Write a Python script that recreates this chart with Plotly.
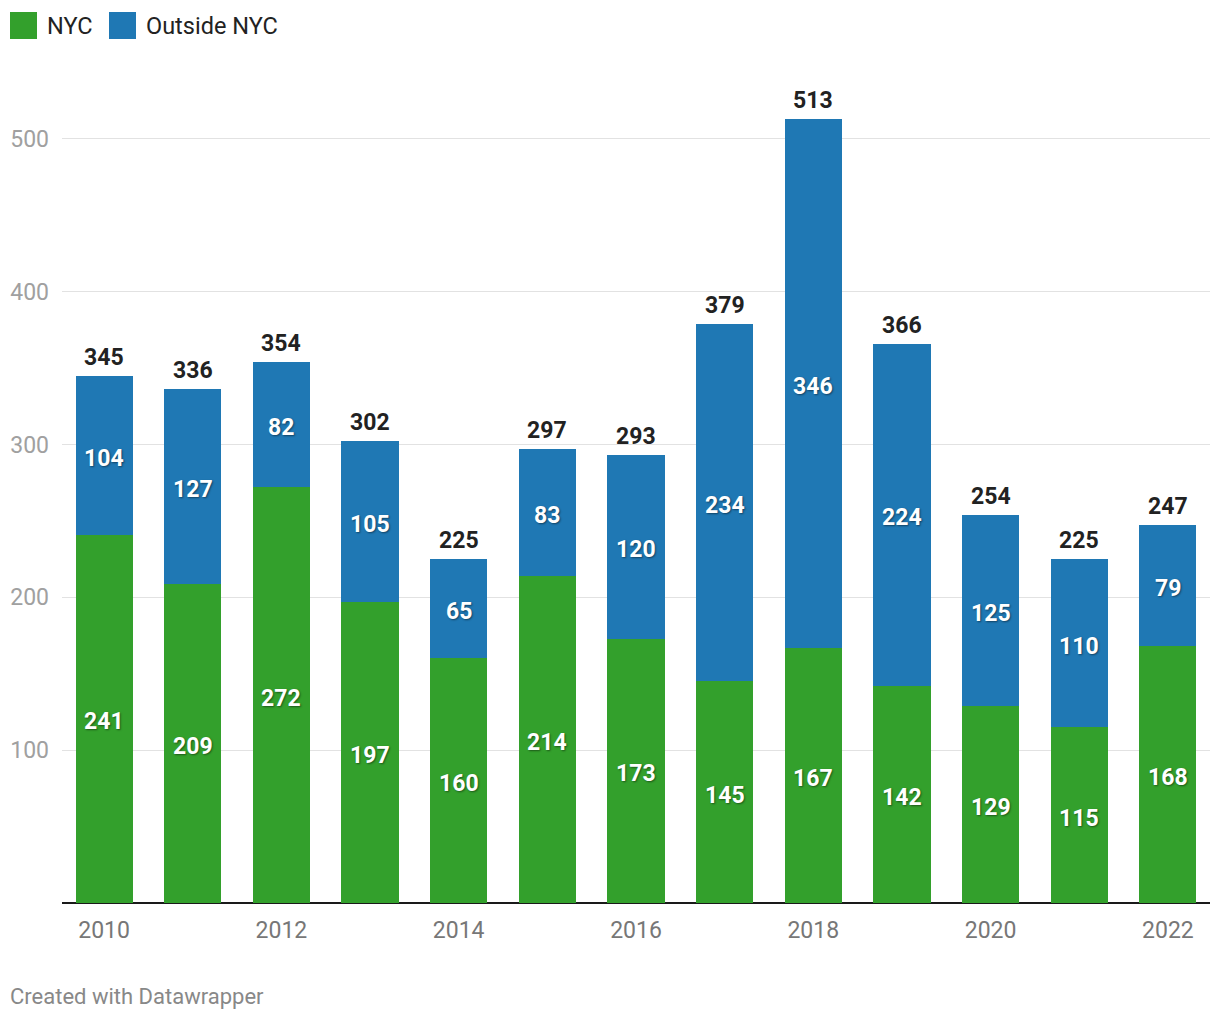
import plotly.graph_objects as go

years = [2010, 2011, 2012, 2013, 2014, 2015, 2016, 2017, 2018, 2019, 2020, 2021, 2022]
nyc = [241, 209, 272, 197, 160, 214, 173, 145, 167, 142, 129, 115, 168]
outside = [104, 127, 82, 105, 65, 83, 120, 234, 346, 224, 125, 110, 79]
totals = [a + b for a, b in zip(nyc, outside)]
tick_years = [2010, 2012, 2014, 2016, 2018, 2020, 2022]
y_ticks = [100, 200, 300, 400, 500]

GREEN = "#33a02c"
BLUE = "#1f78b4"
FONT = "Roboto"
x_cat = [str(y) for y in years]

# page offset (browser body margin)
OFF = 8
PL, PT, PR, PB = 62, 70, 1210, 903  # plot area in page pixels
PW, PH = PR - PL, PB - PT

inside_font = dict(family=FONT, size=23, color="white", weight="bold",
                   shadow="1px 1px 2px rgba(0,0,0,0.45)")
total_font = dict(family=FONT, size=23, color="#222222", weight="bold")

fig = go.Figure()
fig.add_trace(go.Bar(x=x_cat, y=nyc, name="NYC", marker_color=GREEN,
                     hoverinfo="x+y", marker_line_width=0))
fig.add_trace(go.Bar(x=x_cat, y=outside, name="Outside NYC", marker_color=BLUE,
                     hoverinfo="x+y", marker_line_width=0))

# value labels (category axis annotations use the category index)
for i, (a, b, t) in enumerate(zip(nyc, outside, totals)):
    fig.add_annotation(x=i, y=a / 2, text=str(a), showarrow=False,
                       xanchor="center", yanchor="middle", yshift=-3,
                       font=inside_font)
    fig.add_annotation(x=i, y=a + b / 2, text=str(b), showarrow=False,
                       xanchor="center", yanchor="middle", yshift=-3,
                       font=inside_font)
    fig.add_annotation(x=i, y=t, text=str(t), showarrow=False,
                       xanchor="center", yanchor="middle", yshift=18.5,
                       font=total_font)

fig.update_layout(
    barmode="stack",
    bargap=0.355,
    width=1212, height=1012,
    margin=dict(l=PL - OFF, r=1212 + OFF - PR, t=PT - OFF, b=1012 + OFF - PB),
    paper_bgcolor="white", plot_bgcolor="white",
    showlegend=False,
    font=dict(family=FONT),
    xaxis=dict(
        type="category",
        range=[-0.475, 12.475],
        tickmode="array",
        tickvals=[str(y) for y in tick_years],
        ticktext=[str(y) for y in tick_years],
        tickfont=dict(family=FONT, size=23, color="#777777"),
        showgrid=False, ticks="", showline=False,
        ticklabelstandoff=11,
        automargin=False,
    ),
    yaxis=dict(
        range=[0, 545],
        tickvals=y_ticks,
        tickfont=dict(family=FONT, size=23, color="#a0a0a0"),
        showgrid=True, gridcolor="#e2e2e2", gridwidth=1,
        zeroline=True, zerolinecolor="#1a1a1a", zerolinewidth=2,
        ticks="", ticklabelstandoff=12,
        showline=False,
        automargin=False,
    ),
)

def px(x):
    return (x - PL) / PW

def py(y):
    return (PB - y) / PH

# custom legend
legend_items = [("NYC", GREEN, 10), ("Outside NYC", BLUE, 109)]
for label, color, x0 in legend_items:
    fig.add_shape(type="rect", xref="paper", yref="paper",
                  x0=px(x0), x1=px(x0 + 27), y0=py(39), y1=py(12),
                  fillcolor=color, line_width=0)
    fig.add_annotation(xref="paper", yref="paper",
                       x=px(x0 + 35), y=py(26),
                       text=label, showarrow=False, xanchor="left", yanchor="middle",
                       font=dict(family=FONT, size=23.5, color="#222222"))

fig.add_annotation(xref="paper", yref="paper",
                   x=px(8), y=py(997),
                   text="Created with Datawrapper", showarrow=False,
                   xanchor="left", yanchor="middle",
                   font=dict(family=FONT, size=22, color="#888888"))

fig.write_html("out.html")
